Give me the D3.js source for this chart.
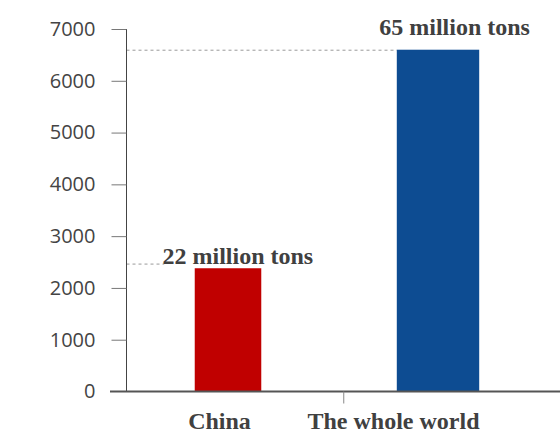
<!DOCTYPE html>
<html><head><meta charset="utf-8">
<script src="https://cdn.jsdelivr.net/npm/d3@7"></script>
<style>html,body{margin:0;padding:0;background:#fff;}svg{display:block;}</style>
</head><body>
<svg id="chart" width="560" height="447"></svg>
<script>
const categories = ["China", "The whole world"];
const values = [2380, 6600];
const refLineValues = [2470, 6600];
const valueLabels = ["22 million tons", "65 million tons"];
const labelValues = [2460, 6890];
const yTicks = [0, 1000, 2000, 3000, 4000, 5000, 6000, 7000];

const colors = {"China": "#C00000", "The whole world": "#0D4C92"};
const widthFactor = {"China": 0.88, "The whole world": 1.09};

const svg = d3.select("#chart");
const plot = {left: 126.5, right: 560, top: 29, bottom: 391.5};

const y = d3.scaleLinear().domain([0, 7000]).range([plot.bottom, plot.top]);
const xAxisScale = d3.scaleBand().domain(categories).range([plot.left, plot.right]);
const xBar = d3.scaleBand().domain(categories).range([123, 543]).paddingInner(0.64).paddingOuter(0.32);
const xCatLabel = d3.scalePoint().domain(categories).range([219.5, 393.5]);

// reference dashed lines
svg.append("g").selectAll("line").data(categories).join("line")
  .attr("x1", plot.left)
  .attr("x2", (d, i) => i === 0 ? xBar(d) - 26 : xBar(d) + xBar.bandwidth() / 2 - xBar.bandwidth() * widthFactor[d] / 2)
  .attr("y1", (d, i) => y(refLineValues[i]) + 0.5)
  .attr("y2", (d, i) => y(refLineValues[i]) + 0.5)
  .attr("stroke", "#999").attr("stroke-width", 1).attr("stroke-dasharray", "3,3");

// bars
svg.append("g").selectAll("rect").data(categories).join("rect")
  .attr("x", d => xBar(d) + xBar.bandwidth() / 2 - xBar.bandwidth() * widthFactor[d] / 2)
  .attr("width", d => xBar.bandwidth() * widthFactor[d])
  .attr("y", (d, i) => y(values[i]))
  .attr("height", (d, i) => y(0) - y(values[i]))
  .attr("fill", d => colors[d]);

// y axis
const yAxis = d3.axisLeft(y).tickValues(yTicks).tickSize(15).tickPadding(16).tickFormat(d3.format("d"));
const gy = svg.append("g").attr("transform", `translate(${plot.left},0)`).call(yAxis);
gy.select(".domain").attr("stroke", "#444").attr("d", `M0,${plot.top}V${plot.bottom}`);
gy.selectAll(".tick line").attr("stroke", "#777");
gy.selectAll(".tick text").attr("fill", "#444").style("font-family", "'Open Sans', sans-serif").style("font-size", "20px");
gy.selectAll(".tick").filter(d => d === 0).select("line").remove();

// x axis
const gx = svg.append("g").attr("transform", `translate(0,${plot.bottom})`);
gx.append("line").attr("x1", 110).attr("x2", plot.right).attr("y1", 0).attr("y2", 0)
  .attr("stroke", "#555").attr("stroke-width", 2);
gx.selectAll("line.tk").data(categories.slice(1)).join("line").attr("class", "tk")
  .attr("x1", d => xAxisScale(d) + 0.5).attr("x2", d => xAxisScale(d) + 0.5)
  .attr("y1", 0).attr("y2", 12).attr("stroke", "#888").attr("stroke-width", 1);
gx.selectAll("text").data(categories).join("text")
  .attr("x", d => xCatLabel(d)).attr("y", 37)
  .attr("text-anchor", "middle").attr("fill", "#404040")
  .style("font-family", "'Liberation Serif', 'Times New Roman', serif")
  .style("font-weight", "bold").style("font-size", "24px")
  .text(d => d);

// value labels
svg.append("g").selectAll("text").data(categories).join("text")
  .attr("x", d => xAxisScale(d) + xAxisScale.bandwidth() / 2 + 3)
  .attr("y", (d, i) => y(labelValues[i]))
  .attr("text-anchor", "middle").attr("fill", "#404040")
  .style("font-family", "'Liberation Serif', 'Times New Roman', serif")
  .style("font-weight", "bold").style("font-size", "24px")
  .text((d, i) => valueLabels[i]);
</script>
</body></html>
